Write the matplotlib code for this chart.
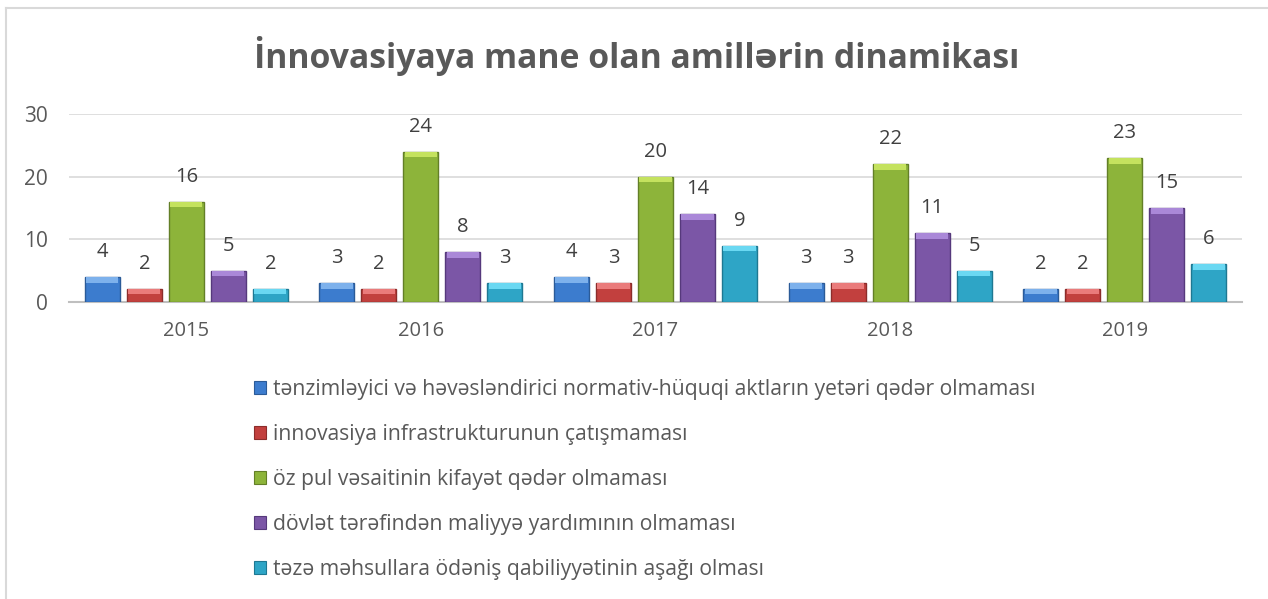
import matplotlib
matplotlib.use("Agg")
import matplotlib.pyplot as plt
import numpy as np
from matplotlib.patches import Patch
from matplotlib.lines import Line2D

plt.rcParams['font.family'] = ['Open Sans', 'DejaVu Sans']

years = ['2015', '2016', '2017', '2018', '2019']
series_names = [
    'tənzimləyici və həvəsləndirici normativ-hüquqi aktların yetəri qədər olmaması',
    'innovasiya infrastrukturunun çatışmaması',
    'öz pul vəsaitinin kifayət qədər olmaması',
    'dövlət tərəfindən maliyyə yardımının olmaması',
    'təzə məhsullara ödəniş qabiliyyətinin aşağı olması',
]
s_normativ = [4, 3, 4, 3, 2]
s_infra = [2, 2, 3, 3, 2]
s_pul = [16, 24, 20, 22, 23]
s_dovlet = [5, 8, 14, 11, 15]
s_teze = [2, 3, 9, 5, 6]
series = [s_normativ, s_infra, s_pul, s_dovlet, s_teze]

colors = ['#3C7CCE', '#C2403E', '#8DB43A', '#7B56A6', '#2EA5C6']
light = ['#7DB1EC', '#EA7B7B', '#C4E25E', '#AA88D8', '#6AD8F2']
edges = ['#2B5B98', '#8C2D2B', '#637F27', '#56397C', '#1E7892']

W, H = 1268, 599
fig = plt.figure(figsize=(W / 100, H / 100), dpi=100)

# outer chart border (partial, as in reference)
fig.add_artist(Line2D([6 / W, 6 / W], [0, 1 - 8 / H], color='#D9D9D9', lw=1.5))
fig.add_artist(Line2D([6 / W, 1], [1 - 8 / H, 1 - 8 / H], color='#D9D9D9', lw=1.5))

ax = fig.add_axes([69 / W, 1 - 302 / H, (1242 - 69) / W, (302 - 114) / H])
ax.set_xlim(-0.5, 4.5)
ax.set_ylim(0, 30)

x = np.arange(len(years))
bw = 0.149
step = 0.179
for i, vals in enumerate(series):
    xs = x + (i - 2) * step
    vals = np.array(vals, dtype=float)
    ax.bar(xs, vals, width=bw, color=colors[i], edgecolor=edges[i], linewidth=1.0, zorder=3)
    band = np.minimum(0.9, 0.4 * vals)
    ax.bar(xs, band, bottom=vals - band, width=bw * 0.92, color=light[i], linewidth=0, zorder=4)
    for xi, v in zip(xs, vals):
        ax.annotate(f'{int(v)}', (xi, v), xytext=(0, 18), textcoords='offset points',
                    ha='center', va='center', fontsize=14.5, color='#404040', zorder=5)

ax.set_yticks([0, 10, 20, 30])
ax.set_xticks(x)
ax.set_xticklabels(years)
ax.tick_params(axis='y', length=0, pad=15, labelsize=15, labelcolor='#595959')
ax.tick_params(axis='x', length=0, pad=14, labelsize=14.5, labelcolor='#595959')
ax.yaxis.grid(True, color='#D9D9D9', lw=1.2, zorder=0)
ax.set_axisbelow(True)
for sp in ['left', 'right', 'top']:
    ax.spines[sp].set_visible(False)
ax.spines['bottom'].set_color('#BFBFBF')
ax.spines['bottom'].set_linewidth(1.5)

fig.text(637 / W, 1 - 56 / H, 'İnnovasiyaya mane olan amillərin dinamikası',
         ha='center', va='center', fontsize=24.3, fontweight='bold', color='#595959')

handles = [Patch(facecolor=colors[i], edgecolor=edges[i], linewidth=0.8) for i in range(5)]
fig.legend(handles, series_names, loc='upper left', bbox_to_anchor=(254 / W, 1 - 379 / H),
           frameon=False, fontsize=15.2, labelcolor='#595959', handlelength=0.55,
           handleheight=0.55, handletextpad=0.35, labelspacing=1.14, borderpad=0,
           borderaxespad=0)

fig.savefig('out.png', dpi=100)
